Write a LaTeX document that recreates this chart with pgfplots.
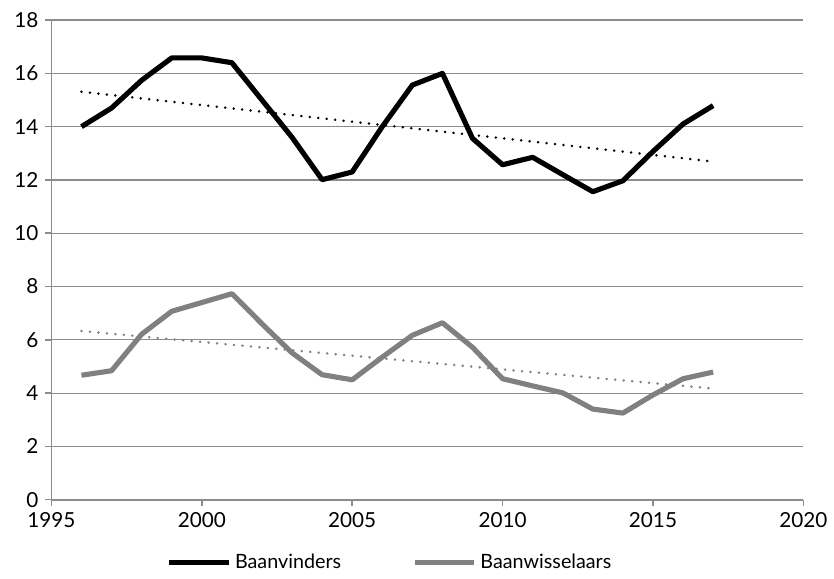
\documentclass[border=0pt]{standalone}
\usepackage{fontspec}
\setmainfont{Lato}
\usepackage{pgfplots}
\usepackage{pgfplotstable}
\pgfplotsset{compat=1.18}
\definecolor{linegray}{RGB}{128,128,128}
\definecolor{gridgray}{RGB}{140,140,140}

\pgfplotstableread{
year bv bw
1996 14.00 4.67
1997 14.70 4.84
1998 15.74 6.21
1999 16.58 7.07
2000 16.58 7.40
2001 16.40 7.73
2002 15.00 6.60
2003 13.60 5.51
2004 12.01 4.69
2005 12.30 4.50
2006 14.00 5.35
2007 15.56 6.17
2008 16.00 6.64
2009 13.56 5.72
2010 12.57 4.54
2011 12.85 4.27
2012 12.20 4.01
2013 11.56 3.40
2014 11.97 3.25
2015 13.07 3.93
2016 14.10 4.54
2017 14.79 4.79
}\datatable

% trend lines
\pgfplotstableread{
year bv bw
1996 15.31 6.33
2017 12.69 4.17
}\trendtable

\begin{document}
\begin{tikzpicture}
\begin{axis}[
    name=main,
    scale only axis,
    width=381pt,
    height=243pt,
    xmin=1995, xmax=2020,
    ymin=0, ymax=18,
    xtick={1995,2000,...,2020},
    ytick={0,2,...,18},
    axis x line*=bottom,
    axis y line*=left,
    axis line style={gridgray, line width=0.9pt, -},
    ymajorgrids,
    grid style={gridgray, line width=0.6pt},
    tick style={gridgray, line width=0.8pt},
    tick align=outside,
    major tick length=3pt,
    xticklabel style={/pgf/number format/1000 sep={}},
    /pgf/number format/assume math mode=true,
    ticklabel style={font=\fontsize{10.5}{12}\selectfont},
    legend style={at={(0.145,-0.095)}, anchor=north west, draw=none,
        legend columns=3, font=\fontsize{10}{12}\selectfont},
    legend cell align=left,
    legend image code/.code={\draw[#1] (0pt,0pt) -- (30pt,0pt);},
]
\addplot[black, line width=2.6pt, line join=round] table[x=year, y=bv] {\datatable};
\addlegendentry{Baanvinders}
\addlegendimage{white, line width=0pt}
\addlegendentry{}
\addplot[linegray, line width=2.6pt, line join=round] table[x=year, y=bw] {\datatable};
\addlegendentry{Baanwisselaars}
\addplot[black, line width=1.4pt, dash pattern=on 0.01pt off 4.3pt, line cap=round, forget plot]
    table[x=year, y=bv] {\trendtable};
\addplot[linegray, line width=1.4pt, dash pattern=on 0.01pt off 4.3pt, line cap=round, forget plot]
    table[x=year, y=bw] {\trendtable};
\end{axis}
\path (main.outer north west) ++(-4pt,3pt);
\end{tikzpicture}
\end{document}
